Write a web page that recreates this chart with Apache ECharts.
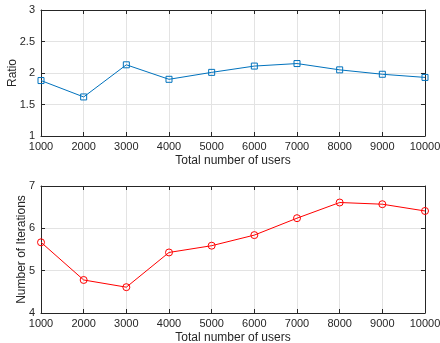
<!DOCTYPE html>
<html>
<head>
<meta charset="utf-8">
<script src="https://cdn.jsdelivr.net/npm/echarts@6/dist/echarts.min.js"></script>
<style>
html,body{margin:0;padding:0;background:#fff;}
#chart{width:440px;height:343px;}
</style>
</head>
<body>
<div id="chart"></div>
<script>
// Number of users on the x axis (shared by both panels)
const users = [1000, 2000, 3000, 4000, 5000, 6000, 7000, 8000, 9000, 10000];
// Upper panel: ratio
const ratio = [1.88, 1.62, 2.13, 1.90, 2.01, 2.11, 2.15, 2.05, 1.98, 1.93];
// Lower panel: number of iterations
const iterations = [5.67, 4.78, 4.61, 5.43, 5.59, 5.84, 6.24, 6.61, 6.57, 6.41];

const FONT = 'Liberation Sans, Arial, Helvetica, sans-serif';
const AXIS_COLOR = '#262626';
const GRID_COLOR = '#e3e3e3';
const LABEL_COLOR = '#262626';

function xMain(gridIndex) {
  return {
    type: 'value', gridIndex, min: 1000, max: 10000, interval: 1000,
    position: 'bottom',
    name: 'Total number of users', nameLocation: 'middle', nameGap: 19,
    nameMoveOverlap: false,
    nameTextStyle: { fontFamily: FONT, fontSize: 12, color: LABEL_COLOR },
    axisLine: { show: true, onZero: false, lineStyle: { color: AXIS_COLOR, width: 1 } },
    axisTick: { show: true, inside: true, length: 4, lineStyle: { color: AXIS_COLOR } },
    axisLabel: { fontFamily: FONT, fontSize: 11, color: LABEL_COLOR, margin: 5,
                 formatter: v => String(v) },
    splitLine: { show: true, lineStyle: { color: GRID_COLOR, width: 1 } }
  };
}
function xTop(gridIndex) {
  return {
    type: 'value', gridIndex, min: 1000, max: 10000, interval: 1000,
    position: 'top',
    axisLine: { show: true, onZero: false, lineStyle: { color: AXIS_COLOR, width: 1 } },
    axisTick: { show: true, inside: true, length: 4, lineStyle: { color: AXIS_COLOR } },
    axisLabel: { show: false }, splitLine: { show: false }
  };
}
function yMain(gridIndex, name, min, max, interval, nameGap) {
  return {
    type: 'value', gridIndex, min, max, interval, position: 'left',
    name, nameLocation: 'middle', nameGap, nameMoveOverlap: false,
    nameTextStyle: { fontFamily: FONT, fontSize: 12, color: LABEL_COLOR },
    axisLine: { show: true, onZero: false, lineStyle: { color: AXIS_COLOR, width: 1 } },
    axisTick: { show: true, inside: true, length: 4, lineStyle: { color: AXIS_COLOR } },
    axisLabel: { fontFamily: FONT, fontSize: 11, color: LABEL_COLOR, margin: 6 },
    splitLine: { show: true, lineStyle: { color: GRID_COLOR, width: 1 } }
  };
}
function yRight(gridIndex, min, max, interval) {
  return {
    type: 'value', gridIndex, min, max, interval, position: 'right',
    axisLine: { show: true, onZero: false, lineStyle: { color: AXIS_COLOR, width: 1 } },
    axisTick: { show: true, inside: true, length: 4, lineStyle: { color: AXIS_COLOR } },
    axisLabel: { show: false }, splitLine: { show: false }
  };
}

const chart = echarts.init(document.getElementById('chart'), null, { renderer: 'canvas' });
chart.setOption({
  animation: false,
  backgroundColor: '#fff',
  grid: [
    { left: 41, right: 15, top: 10, height: 126, containLabel: false, outerBoundsMode: 'none' },
    { left: 41, right: 15, top: 186, height: 127, containLabel: false, outerBoundsMode: 'none' }
  ],
  xAxis: [xMain(0), xTop(0), xMain(1), xTop(1)],
  yAxis: [
    yMain(0, 'Ratio', 1, 3, 0.5, 22),
    yRight(0, 1, 3, 0.5),
    yMain(1, 'Number of Iterations', 4, 7, 1, 13),
    yRight(1, 4, 7, 1)
  ],
  series: [
    {
      type: 'line', xAxisIndex: 0, yAxisIndex: 0,
      data: users.map((u, i) => [u, ratio[i]]),
      symbol: 'rect', symbolSize: 6,
      lineStyle: { color: '#0072BD', width: 1 },
      itemStyle: { color: 'rgba(255,255,255,0)', borderColor: '#0072BD', borderWidth: 1 }
    },
    {
      type: 'line', xAxisIndex: 2, yAxisIndex: 2,
      data: users.map((u, i) => [u, iterations[i]]),
      symbol: 'circle', symbolSize: 7,
      lineStyle: { color: '#FF0000', width: 1 },
      itemStyle: { color: 'rgba(255,255,255,0)', borderColor: '#FF0000', borderWidth: 1 }
    }
  ]
});
</script>
</body>
</html>
